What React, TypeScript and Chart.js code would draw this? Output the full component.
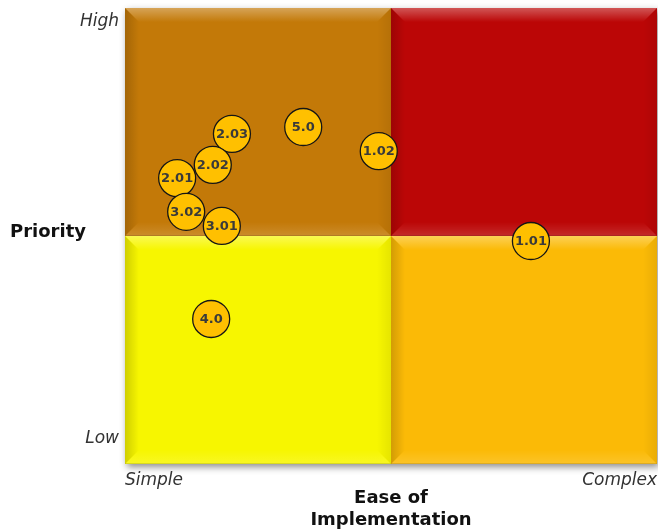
import React, { useEffect, useRef } from 'react';
import { Chart, registerables } from 'chart.js';

Chart.register(...registerables);

// ---- data ----
const itemLabels = ['2.03', '5.0', '1.02', '2.02', '2.01', '3.02', '3.01', '1.01', '4.0'];
const easeValues = [2.01, 3.35, 4.77, 1.65, 0.98, 1.15, 1.82, 7.63, 1.62];
const priorityValues = [7.24, 7.39, 6.86, 6.56, 6.27, 5.53, 5.22, 4.89, 3.18];

const xTickValues = [0, 10];
const xTickLabels = ['Simple', 'Complex'];
const yTickValues = [0.55, 9.7];
const yTickLabels = ['Low', 'High'];

const xTitle = ['Ease of', 'Implementation'];
const yTitle = 'Priority';

const axisMin = 0;
const axisMax = 10;
const axisMid = 5;

const colorTopLeft = '#C37908';
const colorTopRight = '#BB0606';
const colorBottomLeft = '#F7F600';
const colorBottomRight = '#FBBA06';

const FONT = '"DejaVu Sans", Verdana, sans-serif';

function band(ctx: CanvasRenderingContext2D, pts: number[][], fill: CanvasGradient) {
  ctx.beginPath();
  ctx.moveTo(pts[0][0], pts[0][1]);
  for (let i = 1; i < pts.length; i++) ctx.lineTo(pts[i][0], pts[i][1]);
  ctx.closePath();
  ctx.fillStyle = fill;
  ctx.fill();
}

function grad(ctx: CanvasRenderingContext2D, x0: number, y0: number, x1: number, y1: number, c0: string, c1: string) {
  const g = ctx.createLinearGradient(x0, y0, x1, y1);
  g.addColorStop(0, c0);
  g.addColorStop(1, c1);
  return g;
}

function drawQuad(ctx: CanvasRenderingContext2D, x0: number, y0: number, x1: number, y1: number, color: string) {
  ctx.fillStyle = color;
  ctx.fillRect(x0, y0, x1 - x0, y1 - y0);
  const b = 14;
  // top (light)
  band(ctx, [[x0, y0], [x1, y0], [x1 - b, y0 + b], [x0 + b, y0 + b]],
    grad(ctx, 0, y0, 0, y0 + b, 'rgba(255,255,255,0.32)', 'rgba(255,255,255,0)'));
  // left (dark)
  band(ctx, [[x0, y0], [x0 + b, y0 + b], [x0 + b, y1 - b], [x0, y1]],
    grad(ctx, x0, 0, x0 + b, 0, 'rgba(0,0,0,0.16)', 'rgba(0,0,0,0)'));
  // right (slightly dark)
  band(ctx, [[x1, y0], [x1, y1], [x1 - b, y1 - b], [x1 - b, y0 + b]],
    grad(ctx, x1, 0, x1 - b, 0, 'rgba(0,0,0,0.07)', 'rgba(0,0,0,0)'));
  // bottom (slightly light)
  band(ctx, [[x0, y1], [x1, y1], [x1 - b, y1 - b], [x0 + b, y1 - b]],
    grad(ctx, 0, y1, 0, y1 - b, 'rgba(255,255,255,0.14)', 'rgba(255,255,255,0)'));
  // thin bottom edge line
  ctx.fillStyle = 'rgba(0,0,0,0.12)';
  ctx.fillRect(x0, y1 - 1, x1 - x0, 1);
}

const quadrantPlugin = {
  id: 'quadrants',
  beforeDatasetsDraw(chart: any) {
    const { ctx, chartArea: a, scales } = chart;
    const mx = scales.x.getPixelForValue(axisMid);
    const my = scales.y.getPixelForValue(axisMid);
    ctx.save();
    ctx.shadowColor = 'rgba(0,0,0,0.45)';
    ctx.shadowBlur = 7;
    ctx.shadowOffsetX = 2;
    ctx.shadowOffsetY = 3;
    ctx.fillStyle = '#999';
    ctx.fillRect(a.left, a.top, a.right - a.left, a.bottom - a.top);
    ctx.restore();
    ctx.save();
    drawQuad(ctx, a.left, a.top, mx, my, colorTopLeft);
    drawQuad(ctx, mx, a.top, a.right, my, colorTopRight);
    drawQuad(ctx, a.left, my, mx, a.bottom, colorBottomLeft);
    drawQuad(ctx, mx, my, a.right, a.bottom, colorBottomRight);
    ctx.restore();
  },
};

const labelPlugin = {
  id: 'bubbleLabels',
  afterDatasetsDraw(chart: any) {
    const { ctx } = chart;
    const meta = chart.getDatasetMeta(0);
    ctx.save();
    ctx.font = `bold 13px ${FONT}`;
    ctx.fillStyle = '#3a3a3a';
    ctx.textAlign = 'center';
    ctx.textBaseline = 'middle';
    meta.data.forEach((pt: any, i: number) => {
      ctx.fillText(itemLabels[i], pt.x, pt.y + 0.5);
    });
    ctx.restore();
  },
  afterDraw(chart: any) {
    const { ctx, scales } = chart;
    const my = scales.y.getPixelForValue(axisMid);
    ctx.save();
    ctx.font = `bold 18px ${FONT}`;
    ctx.fillStyle = '#111';
    ctx.textAlign = 'left';
    ctx.textBaseline = 'middle';
    ctx.fillText(yTitle, 10, my - 4);
    ctx.restore();
  },
};

export default function App() {
  const ref = useRef<HTMLCanvasElement | null>(null);
  useEffect(() => {
    if (!ref.current) return;
    Chart.defaults.font.family = FONT;
    const chart = new Chart(ref.current, {
      type: 'scatter',
      data: {
        datasets: [
          {
            data: easeValues.map((x, i) => ({ x, y: priorityValues[i] })),
            pointRadius: 18.5,
            pointHoverRadius: 18.5,
            pointBackgroundColor: '#FFC000',
            pointBorderColor: '#151515',
            pointBorderWidth: 1.3,
            clip: false,
          },
        ],
      },
      options: {
        animation: false,
        responsive: false,
        maintainAspectRatio: false,
        events: [],
        layout: { autoPadding: false, padding: { left: 0, top: 8, right: 1, bottom: 0 } },
        plugins: { legend: { display: false }, tooltip: { enabled: false } },
        scales: {
          x: {
            type: 'linear',
            min: axisMin,
            max: axisMax,
            grid: { display: false, drawTicks: false },
            border: { display: false },
            afterBuildTicks: (s: any) => {
              s.ticks = xTickValues.map((v) => ({ value: v }));
            },
            ticks: {
              align: 'inner',
              padding: 6,
              maxRotation: 0,
              autoSkip: false,
              color: '#333',
              font: { size: 17, style: 'italic' },
              callback: (_v: any, i: number) => xTickLabels[i],
            },
            title: {
              display: true,
              text: xTitle,
              color: '#111',
              font: { size: 18, weight: 'bold', lineHeight: 22 / 18 },
              padding: { top: 0, bottom: 0 },
            },
            afterFit: (s: any) => {
              s.height = 67;
              s.paddingLeft = 0;
              s.paddingRight = 0;
            },
          },
          y: {
            type: 'linear',
            min: axisMin,
            max: axisMax,
            grid: { display: false, drawTicks: false },
            border: { display: false },
            afterBuildTicks: (s: any) => {
              s.ticks = yTickValues.map((v) => ({ value: v }));
            },
            ticks: {
              padding: 6,
              autoSkip: false,
              color: '#333',
              font: { size: 17, style: 'italic' },
              callback: (_v: any, i: number) => yTickLabels[i],
            },
            afterFit: (s: any) => {
              s.width = 125;
              s.paddingTop = 0;
              s.paddingBottom = 0;
            },
          },
        },
      },
      plugins: [quadrantPlugin, labelPlugin],
    } as any);
    return () => chart.destroy();
  }, []);
  return (
    <div style={{ position: 'absolute', left: 0, top: 0, width: 658, height: 531 }}>
      <canvas ref={ref} width={658} height={531} style={{ width: 658, height: 531 }} />
    </div>
  );
}
